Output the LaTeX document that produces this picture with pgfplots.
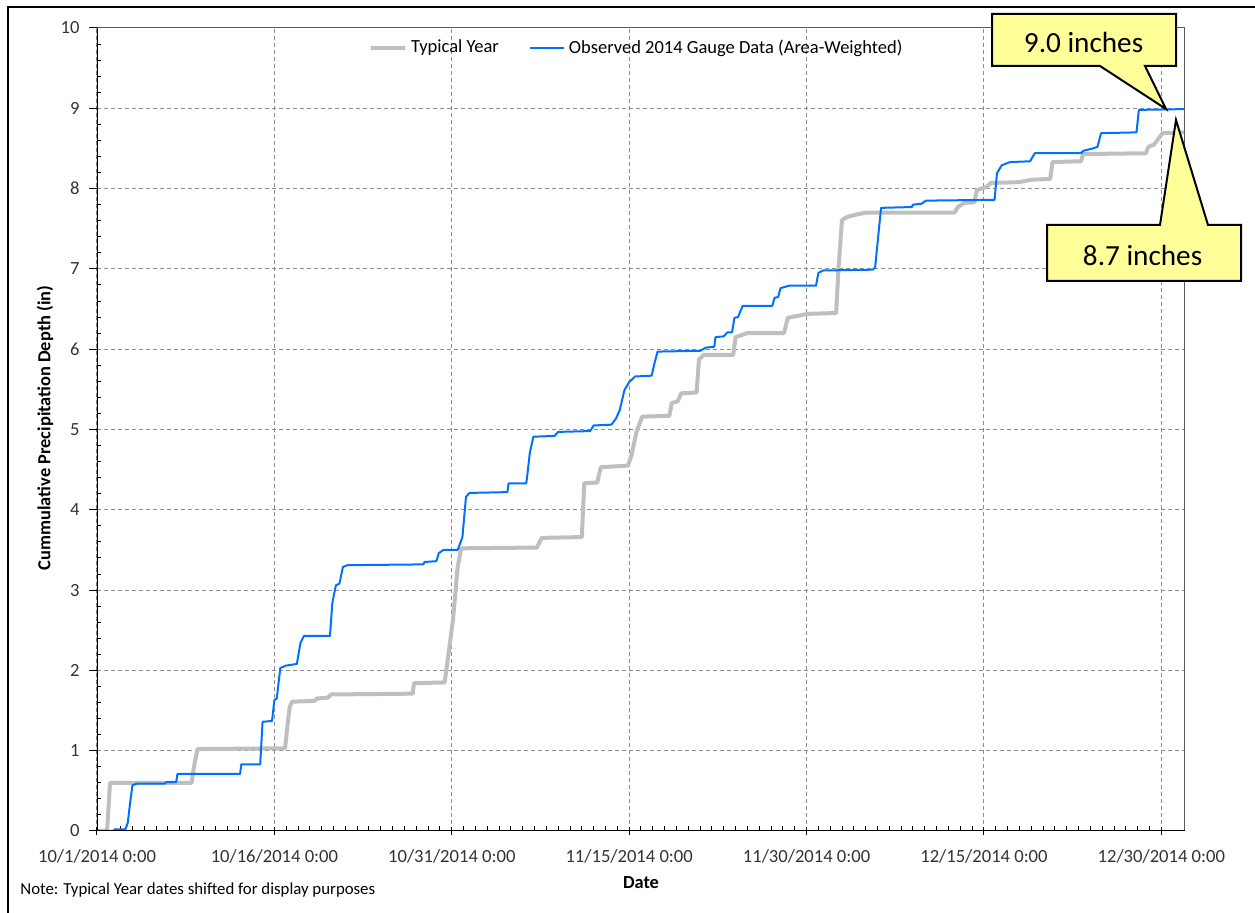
\documentclass[border=0pt]{standalone}
\usepackage{fontspec}
\setmainfont{Carlito}
\usepackage{pgfplots}
\pgfplotsset{compat=1.18}
\definecolor{obsblue}{RGB}{0,112,255}
\definecolor{typgray}{RGB}{191,191,191}
\definecolor{calloutfill}{RGB}{255,255,153}
\begin{document}
\begin{tikzpicture}
\path[use as bounding box] (-48.5pt,-41pt) rectangle (579pt,415.5pt);
\begin{axis}[
  at={(0,0)}, anchor=origin,
  scale only axis, width=544pt, height=401.5pt,
  xmin=0, xmax=92, ymin=0, ymax=10,
  xtick={0,15,30,45,60,75,90},
  xticklabels={10/1/2014 0:00,10/16/2014 0:00,10/31/2014 0:00,11/15/2014 0:00,11/30/2014 0:00,12/15/2014 0:00,12/30/2014 0:00},
  ytick={0,1,...,10},
  minor x tick num=14, minor y tick num=4,
  xtick pos=left, ytick pos=left,
  grid=major,
  major grid style={black!45, line width=0.5pt, dash pattern=on 2pt off 1.5pt},
  axis line style={draw=none},
  tick style={black, line width=0.5pt},
  major tick length=4pt, minor tick length=2.25pt,
  major x tick style={yshift=-2pt},
  major y tick style={xshift=-4pt},
  /pgf/number format/assume math mode=true,
  ticklabel style={font=\fontsize{9.3}{11}\selectfont, text=black!80},
  xticklabel style={anchor=center, inner sep=0pt, yshift=-12.5pt},
  yticklabel style={anchor=east, inner sep=0pt, xshift=-8.5pt},
  xlabel={Date},
  xlabel style={font=\bfseries\fontsize{9.2}{11}\selectfont, at={(axis description cs:0.5,-0.0648)}, anchor=center},
  ylabel={Cummulative Precipitation Depth (in)},
  ylabel style={font=\bfseries\fontsize{9.2}{11}\selectfont, at={(axis description cs:-0.0478,0.502)}, anchor=center},
  legend style={draw=none, fill=none, at={(axis description cs:0.497,0.975)}, anchor=center,
    font=\fontsize{9.25}{11}\selectfont, /tikz/every even column/.append style={column sep=13pt}},
  legend columns=2, legend cell align=left,
]
\addplot[typgray, line width=2pt, line join=round] coordinates {
(0,0) (0.85,0) (1.0,0.35) (1.1,0.6) (8.0,0.6) (8.2,0.8) (8.5,1.02) (15.9,1.03)
(16.1,1.3) (16.3,1.55) (16.5,1.61) (18.4,1.62) (18.6,1.65) (19.5,1.66) (19.8,1.70)
(26.7,1.71) (26.8,1.84) (29.4,1.85) (29.8,2.29) (30.1,2.63) (30.5,3.29) (30.8,3.52)
(37.2,3.53) (37.6,3.65) (41.0,3.66) (41.2,4.33) (42.3,4.34) (42.6,4.53) (44.9,4.55)
(45.2,4.68) (45.6,4.96) (46.1,5.16) (48.4,5.17) (48.6,5.33) (49.1,5.35) (49.4,5.45)
(50.7,5.46) (50.9,5.87) (51.3,5.93) (53.8,5.93) (54.0,6.15) (55.0,6.20) (58.1,6.20)
(58.4,6.39) (60.1,6.44) (62.5,6.45) (62.7,7.0) (63.0,7.61) (63.5,7.65) (64.3,7.68)
(65,7.70) (72.5,7.70) (72.8,7.77) (73.3,7.82) (74.2,7.83) (74.4,7.98) (75.2,8.02)
(75.6,8.07) (78,8.08) (79,8.11) (80.6,8.12) (80.8,8.33) (83.2,8.34) (83.4,8.43)
(88.7,8.44) (88.9,8.52) (89.4,8.55) (90.1,8.69) (92,8.70)
};
\addlegendentry{Typical Year}
\addplot[obsblue, line width=1pt, line join=round] coordinates {
(0,0) (1.4,0) (1.5,0.02) (2.4,0.02) (2.6,0.1) (2.8,0.35) (3.0,0.57) (3.4,0.59)
(5.7,0.59) (5.9,0.61) (6.7,0.61) (6.8,0.71) (12.1,0.71) (12.2,0.83) (13.8,0.83)
(14.0,1.36) (14.8,1.37) (15.0,1.63) (15.2,1.65) (15.5,2.03) (16.0,2.06) (16.9,2.08)
(17.2,2.34) (17.5,2.43) (19.7,2.43) (19.9,2.84) (20.2,3.06) (20.5,3.08) (20.8,3.29)
(21.2,3.31) (27.6,3.32) (27.7,3.35) (28.7,3.36) (28.9,3.46) (29.3,3.50) (30.5,3.50)
(30.9,3.66) (31.2,4.16) (31.5,4.21) (34.7,4.22) (34.8,4.33) (36.3,4.33) (36.4,4.45)
(36.6,4.71) (36.9,4.91) (38.7,4.92) (39.0,4.97) (41.7,4.98) (42.0,5.05) (43.5,5.06)
(43.9,5.14) (44.2,5.24) (44.6,5.49) (45.0,5.59) (45.5,5.66) (46.9,5.67) (47.1,5.8)
(47.4,5.97) (51.0,5.98) (51.5,6.02) (52.2,6.03) (52.3,6.15) (53.0,6.16) (53.3,6.21)
(53.7,6.21) (53.9,6.39) (54.2,6.40) (54.6,6.54) (57.1,6.54) (57.3,6.64) (57.6,6.65)
(57.8,6.76) (58.5,6.79) (60.8,6.79) (61.0,6.95) (61.4,6.98) (65.6,6.99) (65.8,7.02)
(66.3,7.76) (68.9,7.77) (69.0,7.80) (69.7,7.81) (70.1,7.85) (75.9,7.86) (76.1,8.19)
(76.5,8.29) (77.2,8.33) (78.9,8.34) (79.3,8.44) (83.2,8.44) (83.4,8.47) (84.2,8.50)
(84.6,8.52) (84.9,8.69) (87.9,8.70) (88.1,8.98) (92,8.99)
};
\addlegendentry{Observed 2014 Gauge Data (Area-Weighted)}
\draw[black!65, line width=0.5pt] (rel axis cs:0,1) -- (rel axis cs:1,1) -- (rel axis cs:1,0);
\draw[black, line width=0.75pt] (rel axis cs:0,1) -- (rel axis cs:0,0) -- (rel axis cs:1,0);
\end{axis}
% outer frame (left and top edges)
\draw[black, line width=1pt] (-44.5pt,-41pt) -- (-44.5pt,412pt) -- (579pt,412pt);
% callouts
\draw[black, line width=1pt, fill=calloutfill, line join=miter]
  (447.5pt,408.5pt) -- (539.5pt,408.5pt) -- (539.5pt,382.5pt) -- (524pt,382.5pt)
  -- (534.5pt,361pt) -- (501.5pt,382.5pt) -- (447.5pt,382.5pt) -- cycle;
\node[font=\fontsize{14.6}{17}\selectfont] at (493.3pt,394.5pt) {9.0 inches};
\draw[black, line width=1pt, fill=calloutfill, line join=miter]
  (475pt,303pt) -- (531.5pt,303pt) -- (539.5pt,355.5pt) -- (555.5pt,303pt)
  -- (572pt,303pt) -- (572pt,275pt) -- (475pt,275pt) -- cycle;
\node[font=\fontsize{14.6}{17}\selectfont] at (522.8pt,288pt) {8.7 inches};
\node[anchor=west, font=\fontsize{8.4}{10}\selectfont, inner sep=0pt] at (-38.5pt,-29.5pt) {Note: Typical Year dates shifted for display purposes};
\end{tikzpicture}
\end{document}
